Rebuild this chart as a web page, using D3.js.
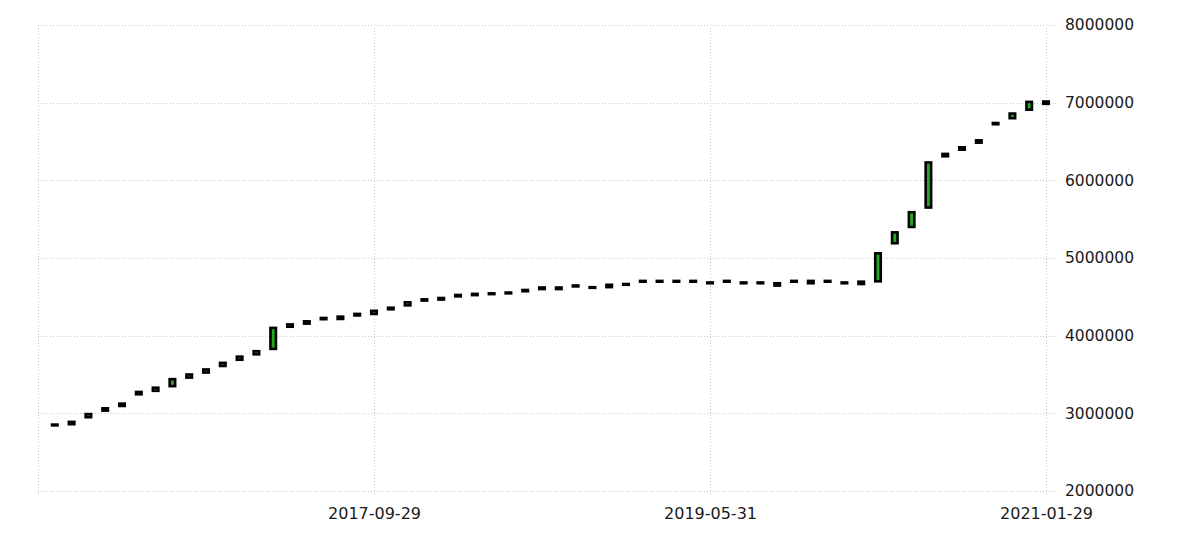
<!DOCTYPE html>
<html>
<head>
<meta charset="utf-8">
<script src="https://cdn.jsdelivr.net/npm/d3@7"></script>
<style>
  html, body { margin: 0; padding: 0; background: #fff; }
  svg { display: block; }
  text { font-family: "DejaVu Sans", sans-serif; fill: #1a1a1a; }
</style>
</head>
<body>
<svg id="chart" width="1185" height="548"></svg>
<script>
// Month-end trading dates (categories)
const dates = [
  "2016-02-29","2016-03-31","2016-04-29","2016-05-31","2016-06-30","2016-07-29","2016-08-31","2016-09-30","2016-10-31","2016-11-30","2016-12-30",
  "2017-01-31","2017-02-28","2017-03-31","2017-04-28","2017-05-31","2017-06-30","2017-07-31","2017-08-31","2017-09-29","2017-10-31","2017-11-30","2017-12-29",
  "2018-01-31","2018-02-28","2018-03-30","2018-04-30","2018-05-31","2018-06-29","2018-07-31","2018-08-31","2018-09-28","2018-10-31","2018-11-30","2018-12-31",
  "2019-01-31","2019-02-28","2019-03-29","2019-04-30","2019-05-31","2019-06-28","2019-07-31","2019-08-30","2019-09-30","2019-10-31","2019-11-29","2019-12-31",
  "2020-01-31","2020-02-28","2020-03-31","2020-04-30","2020-05-29","2020-06-30","2020-07-31","2020-08-31","2020-09-30","2020-10-30","2020-11-30","2020-12-31",
  "2021-01-29"
];

const openValues = [
  2845000,2860000,2950000,3035000,3095000,3245000,3290000,3350000,3460000,3525000,3610000,
  3690000,3760000,3830000,4115000,4155000,4212000,4215000,4260000,4280000,4340000,4390000,4452000,
  4465000,4506000,4522000,4535000,4545000,4572000,4600000,4600000,4646000,4624000,4625000,4655000,
  4695000,4695000,4695000,4695000,4675000,4695000,4685000,4685000,4645000,4705000,4675000,4705000,
  4675000,4665000,4700000,5190000,5400000,5650000,6310000,6395000,6485000,6722000,6800000,6910000,
  6985000
];
const closeValues = [
  2855000,2890000,2990000,3065000,3125000,3275000,3330000,3440000,3500000,3565000,3650000,
  3730000,3800000,4100000,4145000,4185000,4228000,4245000,4280000,4320000,4360000,4430000,4468000,
  4485000,4524000,4538000,4545000,4555000,4588000,4620000,4620000,4634000,4616000,4655000,4665000,
  4705000,4705000,4705000,4705000,4685000,4705000,4675000,4675000,4675000,4695000,4705000,4695000,
  4685000,4695000,5060000,5330000,5590000,6230000,6340000,6425000,6515000,6738000,6860000,7010000,
  7015000
];

const yTicks = [2000000,3000000,4000000,5000000,6000000,7000000,8000000];
const xTickLabels = ["2017-09-29","2019-05-31","2021-01-29"];

const svg = d3.select("#chart");
const mLeft = 38, mRight = 1046, mTop = 25, mBottom = 491;

const x = d3.scaleLinear().domain([-1, dates.length - 1]).range([mLeft, mRight]);
const y = d3.scaleLinear().domain([2000000, 8000000]).range([mBottom, mTop]);

const gridColor = "#c9c9c9";

// horizontal grid
svg.append("g").selectAll("line").data(yTicks).join("line")
  .attr("x1", mLeft).attr("x2", mRight + 12)
  .attr("y1", d => Math.round(y(d)) + 0.5).attr("y2", d => Math.round(y(d)) + 0.5)
  .attr("stroke", gridColor).attr("stroke-width", 1).attr("stroke-dasharray", "1,2");

// vertical grid (start + tick dates)
const xTickIdx = xTickLabels.map(t => dates.indexOf(t));
const vIdx = [-1].concat(xTickIdx);
svg.append("g").selectAll("line").data(vIdx).join("line")
  .attr("x1", d => Math.round(x(d)) + 0.5).attr("x2", d => Math.round(x(d)) + 0.5)
  .attr("y1", mTop).attr("y2", mBottom + 5)
  .attr("stroke", gridColor).attr("stroke-width", 1).attr("stroke-dasharray", "1,2");

// right axis
const yAxis = d3.axisRight(y).tickValues(yTicks).tickSize(0).tickPadding(0).tickFormat(d3.format("d"));
const gy = svg.append("g").attr("transform", `translate(${mRight + 19},0)`).call(yAxis);
gy.select(".domain").remove();
gy.selectAll("text").attr("font-size", "15.5px").attr("fill", "#141414")
  .attr("font-family", "DejaVu Sans, sans-serif");

// bottom axis
const xAxis = d3.axisBottom(x).tickValues(xTickIdx).tickSize(0).tickPadding(0)
  .tickFormat(i => dates[i]);
const gx = svg.append("g").attr("transform", `translate(0,${mBottom + 17})`).call(xAxis);
gx.select(".domain").remove();
gx.selectAll("text").attr("font-size", "16px").attr("fill", "#141414")
  .attr("font-family", "DejaVu Sans, sans-serif");

// candles
const candles = dates.map((d, i) => ({ i, o: openValues[i], c: closeValues[i] }));
const bodyW = 5.5;
svg.append("g").selectAll("rect").data(candles).join("rect")
  .attr("x", d => x(d.i) - bodyW / 2)
  .attr("y", d => y(Math.max(d.o, d.c)))
  .attr("width", bodyW)
  .attr("height", d => Math.max(0.6, Math.abs(y(d.o) - y(d.c))))
  .attr("fill", d => d.c >= d.o ? "#22a822" : "#d02020")
  .attr("stroke", "#000")
  .attr("stroke-width", 2.6);
</script>
</body>
</html>
